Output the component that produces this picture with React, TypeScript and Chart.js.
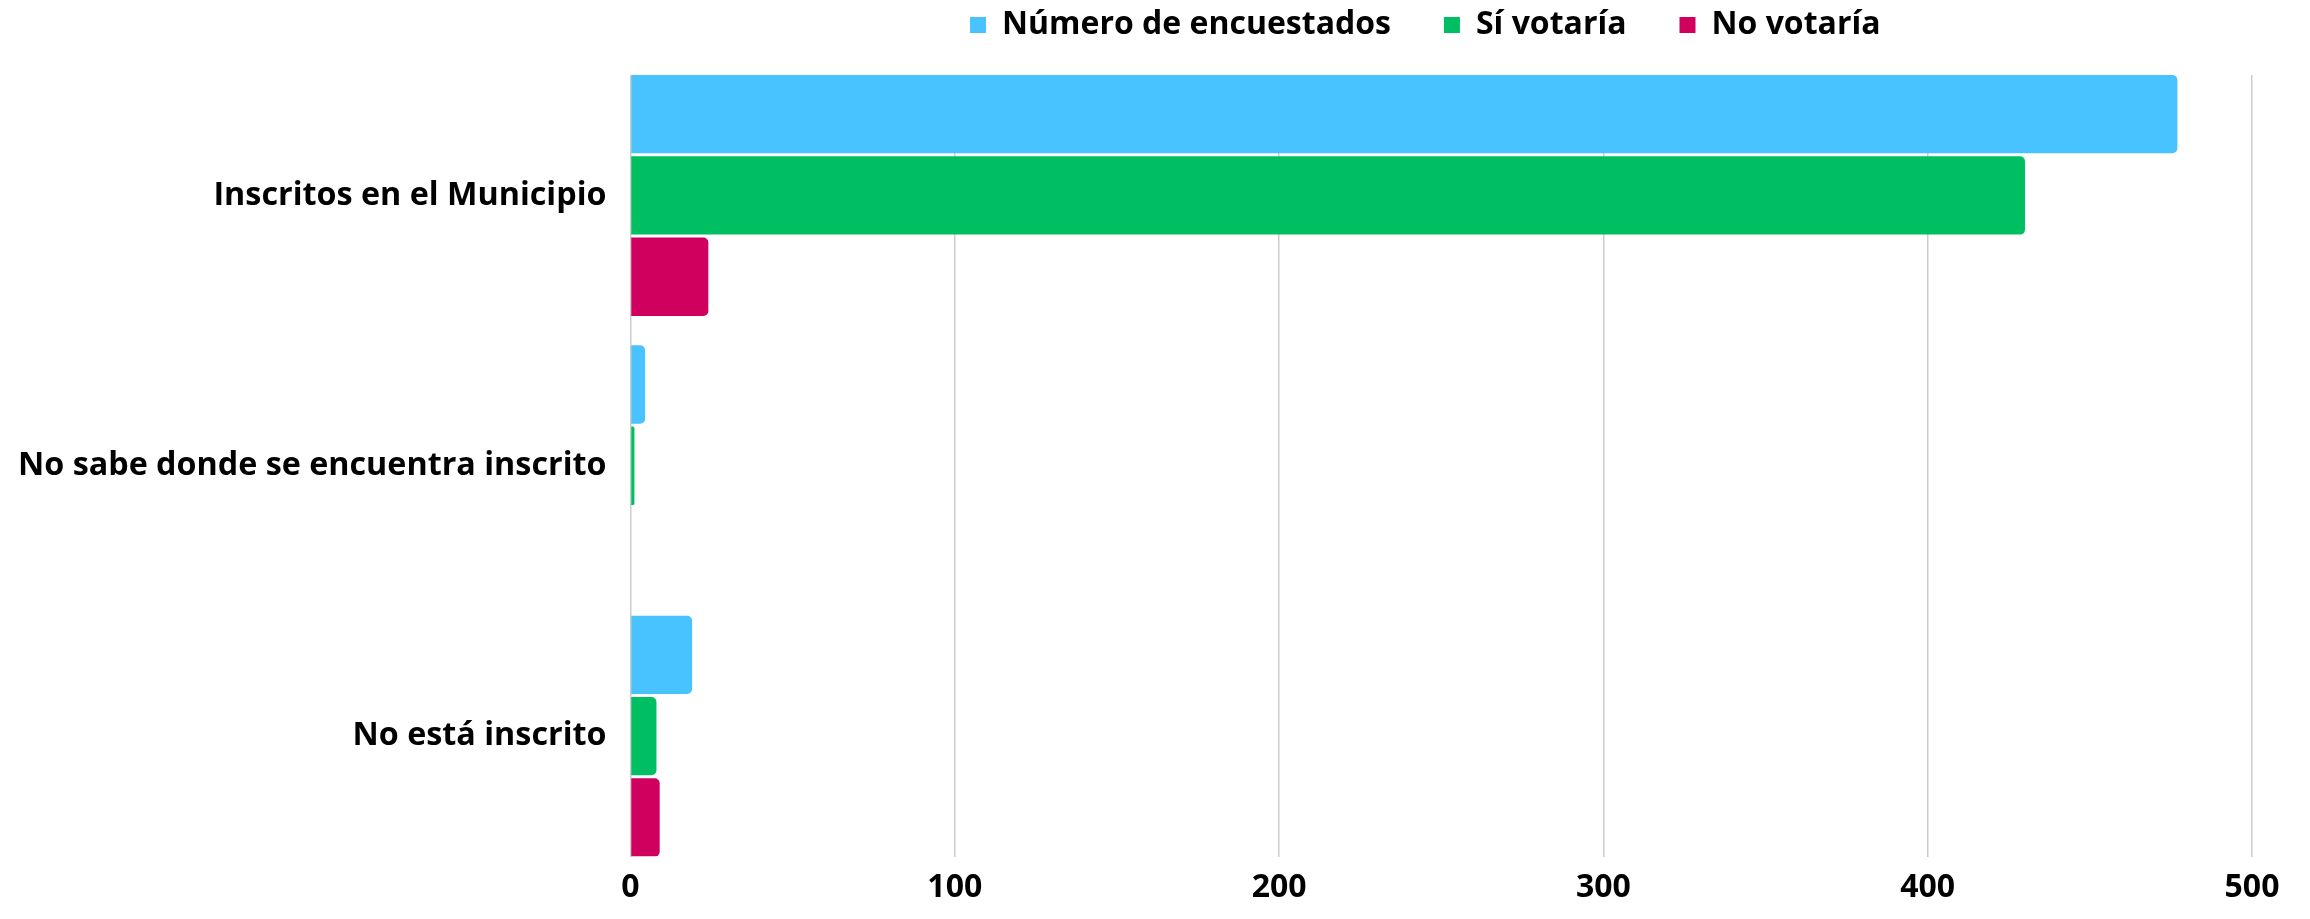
import React, { useEffect, useRef } from "react";
import { Chart, registerables } from "chart.js";

Chart.register(...registerables);

const categories = [
  "Inscritos en el Municipio",
  "No sabe donde se encuentra inscrito",
  "No está inscrito",
];
const seriesNames = ["Número de encuestados", "Sí votaría", "No votaría"];
const encuestados = [477, 4.5, 19];
const siVotaria = [430, 1.2, 8];
const noVotaria = [24, 0, 9];
const xTicks = [0, 100, 200, 300, 400, 500];
const colors = ["#48C3FF", "#00BF63", "#D0005E"];

const FONT = "'Open Sans', 'DejaVu Sans', sans-serif";

export default function App() {
  const ref = useRef<HTMLCanvasElement | null>(null);

  useEffect(() => {
    if (!ref.current) return;
    const series = [encuestados, siVotaria, noVotaria];
    const legendTrim: any = {
      id: "legendTrim",
      beforeInit(chart: any) {
        const lg = chart.legend;
        if (!lg) return;
        const orig = lg.fit;
        lg.fit = function () {
          orig.call(this);
          this.height = 119;
        };
      },
      afterLayout(chart: any) {
        const lg = chart.legend;
        if (!lg) return;
        lg.left -= 16;
        lg.right -= 16;
      },
    };
    const chart = new Chart(ref.current, {
      type: "bar",
      data: {
        datasets: series.map((vals, i) => ({
          label: seriesNames[i],
          data: vals.map((v, j) => ({ x: v, y: j })),
          backgroundColor: colors[i],
          borderRadius: 5,
          borderSkipped: "start",
          categoryPercentage: 0.902,
          barPercentage: 0.964,
        })),
      },
      options: {
        indexAxis: "y",
        animation: false,
        responsive: true,
        maintainAspectRatio: false,
        layout: { padding: { top: -44, left: -6, right: 58, bottom: 0 } },
        plugins: {
          tooltip: { enabled: false },
          legend: {
            display: true,
            position: "top",
            fullSize: false,
            labels: {
              boxWidth: 16,
              boxHeight: 16,
              padding: 53,
              color: "#000",
              font: { family: FONT, size: 32, weight: "bold" },
            },
          },
        },
        scales: {
          x: {
            type: "linear",
            min: xTicks[0],
            max: xTicks[xTicks.length - 1],
            afterBuildTicks: (axis: any) => {
              axis.ticks = xTicks.map((v) => ({ value: v }));
            },
            grid: {
              color: "#cccccc",
              lineWidth: 1.5,
              drawTicks: false,
            },
            border: { display: false },
            ticks: {
              padding: 12,
              color: "#000",
              font: { family: FONT, size: 32, weight: "bold" },
            },
          },
          y: {
            type: "linear",
            reverse: true,
            offset: false,
            min: -0.4455,
            max: categories.length - 1 + 0.4455,
            grid: { display: false, drawTicks: false, offset: false },
            border: { display: false },
            ticks: {
              stepSize: 1,
              includeBounds: false,
              autoSkip: false,
              padding: 24,
              color: "#000",
              font: { family: FONT, size: 32.3, weight: "bold" },
              callback: (v: any) => categories[v as number] ?? "",
            },
          },
        },
      },
      plugins: [legendTrim],
    } as any);
    return () => chart.destroy();
  }, []);

  return (
    <div style={{ position: "fixed", left: 0, top: 0, width: "100vw", height: "100vh", background: "#fff" }}>
      <canvas ref={ref} />
    </div>
  );
}
